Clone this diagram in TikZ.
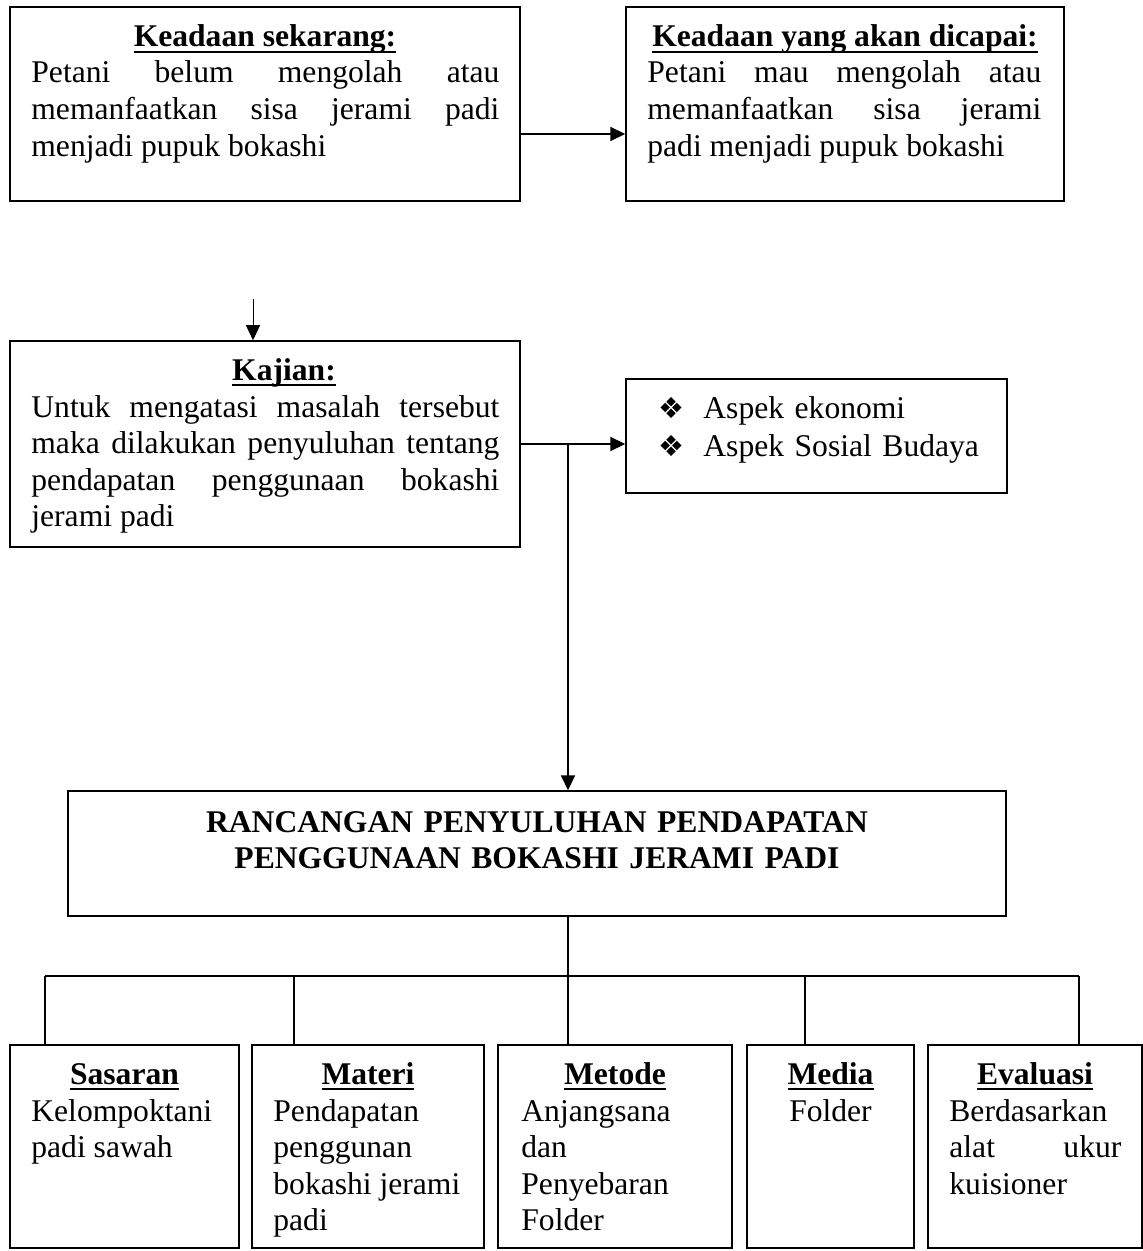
\documentclass[tikz,border=0pt]{standalone}
\usepackage{fontspec}
\setmainfont{Liberation Serif}
\newfontfamily\simbol{DejaVu Sans}
\usetikzlibrary{arrows.meta,fit}
\hyphenpenalty=10000
\tolerance=9999
\newcommand\ukuran{\fontsize{15.8}{18.3}\selectfont}
\newsavebox\gbkotak
\newcommand\garisbawah[1]{\sbox\gbkotak{#1}\rlap{\vrule height -2pt depth 3.1pt width \wd\gbkotak}\usebox\gbkotak}
\newcommand\butir{\makebox[22.5pt][l]{\simbol\fontsize{14.5}{14.5}\selectfont ❖}}
\begin{document}
\begin{tikzpicture}[x=0.5pt,y=-0.5pt,>={Triangle[length=7.5pt,width=7pt]},
	kotak/.style={draw,line width=0.75pt,inner sep=0pt},
	judul/.style={anchor=base,inner sep=0pt,font=\ukuran\bfseries},
	isi/.style={anchor=base west,inner sep=0pt,font=\ukuran,align=justify,text width=#1},
	panah/.style={->,line width=1pt},
	cabang/.style={line width=0.6pt}]
	\useasboundingbox (0,0) rectangle (1143,1251);
	%Kotak keadaan:
	\node[kotak,fit={(10,7) (520,201)}] (sekarang) {};
	\node[kotak,fit={(626,7) (1064,201)}] (dicapai) {};
	\node[judul] (sekarang-j) at (265,47) {\garisbawah{Keadaan sekarang:}};
	\node[isi=234pt] (sekarang-i) at (31,83) {Petani belum mengolah atau\linebreak memanfaatkan sisa jerami padi\linebreak menjadi pupuk bokashi};
	\node[judul] (dicapai-j) at (845,47) {\garisbawah{Keadaan yang akan dicapai:}};
	\node[isi=197pt] (dicapai-i) at (647,83) {Petani mau mengolah atau\linebreak memanfaatkan sisa jerami\linebreak padi menjadi pupuk bokashi};
	%Kajian, aspek:
	\node[kotak,fit={(10,341) (520,547)}] (kajian) {};
	\node[judul] (kajian-j) at (284,380) {\garisbawah{Kajian:}};
	\node[isi=234pt] (kajian-i) at (31,417) {Untuk mengatasi masalah tersebut\linebreak maka dilakukan penyuluhan tentang\linebreak pendapatan penggunaan bokashi\linebreak jerami padi};
	\node[kotak,fit={(626,379) (1007,493)}] (aspek) {};
	\node[isi=170pt,align=left,font=\fontsize{15.8}{19}\selectfont] (aspek-i) at (658,418) {\butir Aspek ekonomi\\\butir Aspek Sosial Budaya};
	%Rancangan:
	\node[kotak,fit={(68,791) (1006,916)}] (rancangan) {};
	\node[judul,text width=460pt,align=center] (rancangan-j) at (537,832) {RANCANGAN PENYULUHAN PENDAPATAN\\ PENGGUNAAN BOKASHI JERAMI PADI};
	\foreach \n/\a/\b/\t in {sasaran/10/239/Sasaran,materi/252/484/Materi,metode/498/732/Metode,media/747/914/Media,evaluasi/928/1142/Evaluasi}{
		\node[kotak,fit={(\a,1045) (\b,1248)}] (\n) {};
		\node[judul] (\n-j) at ([yshift=-20pt]\n.north) {\garisbawah{\t}};
	}
	\node[isi=93.5pt] (sasaran-i) at (31,1121) {Kelompoktani\\ padi sawah};
	\node[isi=98pt] (materi-i) at (273,1121) {Pendapatan\\ penggunan\\ bokashi jerami\\ padi};
	\node[isi=95pt] (metode-i) at (521,1121) {Anjangsana\\ dan\\ Penyebaran\\ Folder};
	\node[anchor=base,inner sep=0pt,font=\ukuran] (media-i) at (830.5,1121) {Folder};
	\node[isi=86pt] (evaluasi-i) at (949,1121) {Berdasarkan\\ alat ukur\linebreak kuisioner};
	%Panah:
	\coordinate (p1) at (520,134);
	\draw[panah] (p1) -- (p1 -| dicapai.west);
	\coordinate (p2) at (253,299);
	\draw[->,line width=0.5pt] (p2) -- (p2 |- kajian.north);
	\coordinate (simpang) at (568,444);
	\draw[panah] (kajian.east) -- (kajian.east -| aspek.west);
	\draw[panah] (simpang) -- (simpang |- rancangan.north);
	\coordinate (bus) at (568,976);
	\draw[cabang] (simpang |- rancangan.south) -- (bus);
	\draw[cabang] (45,976) -- (1079,976);
	\foreach \n/\x in {sasaran/45,materi/294,metode/568,media/805,evaluasi/1079}
		\draw[cabang] (\x,976) -- (\x,976 |- \n.north);
\end{tikzpicture}
\end{document}
